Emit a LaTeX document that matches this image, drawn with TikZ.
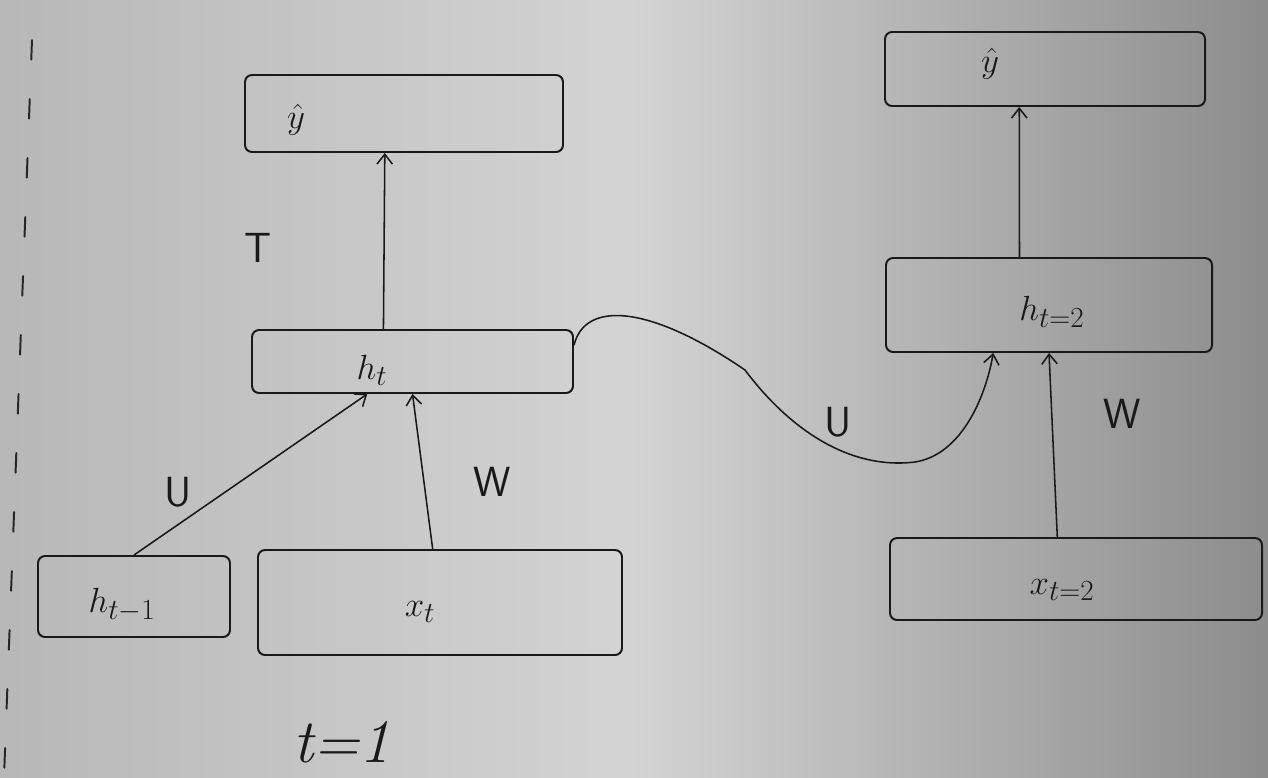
\documentclass[tikz,border=0pt]{standalone}
\usetikzlibrary{arrows.meta,fit,calc}
\begin{document}
\begin{tikzpicture}[x=0.25mm,y=-0.25mm,
  box/.style={draw=black!90, line width=1.4pt, rounded corners=5pt, inner sep=0pt},
  conn/.style={draw=black!90, line width=1.1pt, -{Straight Barb[length=7pt,width=11pt]}},
  lbl/.style={font=\fontsize{30}{34}\selectfont, text=black!90},
  tag/.style={font=\fontsize{30}{34}\selectfont\sffamily, text=black!90}]
% whiteboard
\shade[left color=black!28, right color=black!45, middle color=black!17]
  (0,0) rectangle (1268,777);
\useasboundingbox (0,0) rectangle (1268,777);
% left time step boundary
\draw[black!85, line width=1.4pt, dash pattern=on 14pt off 28pt, line cap=round]
  (32,40) -- (4,777);
% time step t=1
\node[box, fit={(245,75) (563,152)}] (yl) {};
\node[lbl] at (296,120) {$\hat{y}$};
\node[box, fit={(252,330) (573,393)}] (ht) {};
\node[lbl] at (372,370) {$h_t$};
\node[box, fit={(38,556) (230,637)}] (hp) {};
\node[lbl] at (122,605) {$h_{t-1}$};
\node[box, fit={(258,550) (622,655)}] (xt) {};
\node[lbl] at (420,612) {$x_t$};
% time step t=2
\node[box, fit={(885,32) (1205,106)}] (yr) {};
\node[lbl] at (990,64) {$\hat{y}$};
\node[box, fit={(886,258) (1212,352)}] (h2) {};
\node[lbl] at (1052,312) {$h_{t=2}$};
\node[box, fit={(890,538) (1262,620)}] (x2) {};
\node[lbl] at (1062,590) {$x_{t=2}$};
% connections
\draw[conn] ($(ht.north west)!0.41!(ht.north east)$) -- ($(yl.south west)!0.44!(yl.south east)$);
\draw[conn] ($(hp.north west)!0.5!(hp.north east)$) -- ($(ht.south west)!0.36!(ht.south east)$);
\draw[conn] ($(xt.north west)!0.48!(xt.north east)$) -- ($(ht.south west)!0.5!(ht.south east)$);
\draw[conn] ($(h2.north west)!0.41!(h2.north east)$) -- ($(yr.south west)!0.42!(yr.south east)$);
\draw[conn] ($(x2.north west)!0.45!(x2.north east)$) -- ($(h2.south west)!0.5!(h2.south east)$);
\draw[conn] ($(ht.north east)!0.25!(ht.south east)$)
  .. controls (585,300) and (650,305) .. (745,370)
  .. controls (790,430) and (850,470) .. (915,462)
  .. controls (960,455) and (985,400) .. ($(h2.south west)!0.33!(h2.south east)$);
% weight labels
\node[tag] at (258,248) {T};
\node[tag] at (178,492) {U};
\node[tag] at (492,482) {W};
\node[tag] at (838,422) {U};
\node[tag] at (1122,414) {W};
\node[tag, font=\fontsize{44}{48}\selectfont\itshape] at (342,742) {t=1};
\end{tikzpicture}
\end{document}
